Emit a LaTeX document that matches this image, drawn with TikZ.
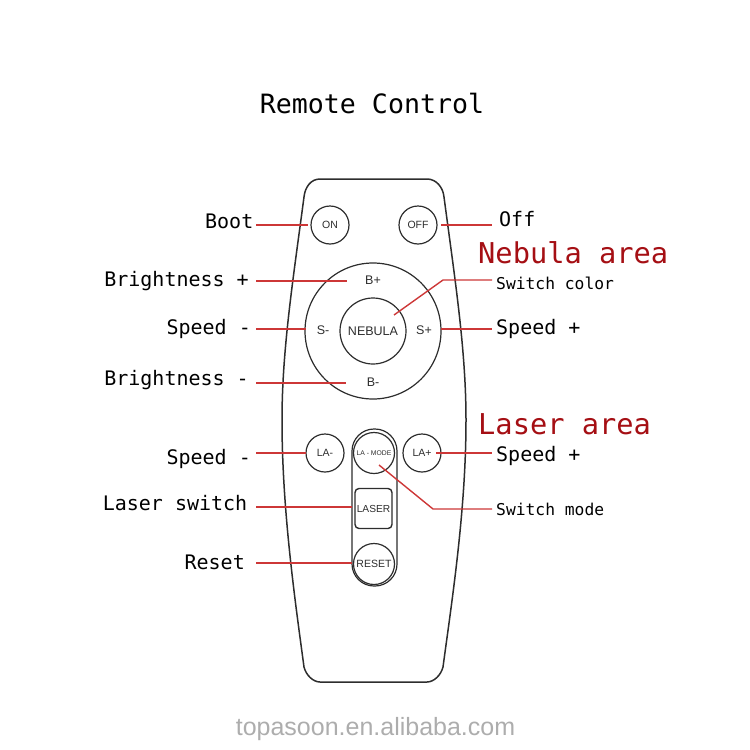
\documentclass[tikz,border=0pt]{standalone}
\usepackage{fontspec}
\setmainfont{DejaVu Sans Mono}
\newfontfamily\btnfont{Liberation Sans}
\definecolor{redline}{RGB}{205,55,55}
\definecolor{areared}{RGB}{165,15,20}
\definecolor{inkc}{RGB}{45,45,45}
\tikzset{
 shell/.style={draw=inkc,line width=1.5pt},
 roundbtn/.style={circle,draw=inkc,line width=1.2pt,minimum size=38pt,inner sep=0pt,text=inkc,font=\btnfont\fontsize{10.5}{12}\selectfont},
 bare/.style={inner sep=0pt,text=inkc,font=\btnfont\fontsize{12.5}{14}\selectfont},
 leader/.style={draw=redline,line width=1.4pt},
 lbl/.style={inner sep=0pt,text=black,font=\fontsize{20}{22}\selectfont},
 smalllbl/.style={inner sep=0pt,text=black,font=\fontsize{16.3}{19}\selectfont},
 area/.style={inner sep=0pt,text=areared,font=\fontsize{28.7}{32}\selectfont},
}
\begin{document}
\begin{tikzpicture}[x=1pt,y=-1pt]
\useasboundingbox (0,0) rectangle (750,750);
% body
\draw[shell] (320,179) -- (427,179) .. controls (436,179) and (443,187) .. (444,197)
  .. controls (455,280) and (466,350) .. (466,420)
  .. controls (466,510) and (452,600) .. (443,667)
  .. controls (441,675) and (434,682) .. (427,682) -- (320,682)
  .. controls (313,682) and (306,675) .. (304,667)
  .. controls (295,600) and (282,510) .. (282,420)
  .. controls (282,350) and (293,280) .. (304,197)
  .. controls (305,187) and (311,179) .. (320,179) -- cycle;
% cluster
\node[circle,draw=inkc,line width=1.2pt,minimum size=136pt,inner sep=0pt] (ring) at (373,331) {};
\node[roundbtn,minimum size=66pt,font=\btnfont\fontsize{12.5}{15}\selectfont] (nebula) at (373,331) {NEBULA};
\node[bare] (bp) at (373,280) {B+};
\node[bare] (bm) at (373,382) {B-};
\node[bare] (sm) at (323,330) {S-};
\node[bare] (sp) at (424,330) {S+};
% top buttons
\node[roundbtn] (on) at (330,225) {ON};
\node[roundbtn] (off) at (418,225) {OFF};
% laser group
\node[roundbtn] (lam) at (325,453) {LA-};
\node[roundbtn] (lap) at (422,453) {LA+};
\node[draw=inkc,line width=1.2pt,rounded corners=22pt,minimum width=45pt,minimum height=157pt,inner sep=0pt] (pill) at (374.5,507.5) {};
\node[roundbtn,minimum size=41pt,font=\btnfont\fontsize{6.8}{9}\selectfont] (lamode) at (374,453) {LA - MODE};
\node[draw=inkc,line width=1.4pt,rounded corners=4pt,minimum width=37pt,minimum height=40pt,inner sep=0pt,text=inkc,font=\btnfont\fontsize{10.2}{12}\selectfont] (laser) at (373.5,508.5) {LASER};
\node[roundbtn,minimum size=41pt,font=\btnfont\fontsize{10.5}{12}\selectfont] (reset) at (374,564) {RESET};
% labels
\node[inner sep=0pt,text=black,font=\fontsize{26.6}{30}\selectfont,anchor=base] (title) at (372,113) {Remote Control};
\node[lbl,anchor=base east] (boot) at (253.5,228) {Boot};
\node[lbl,anchor=base east] (brp) at (249,286) {Brightness +};
\node[lbl,anchor=base east] (spl) at (251,334) {Speed -};
\node[lbl,anchor=base east] (brm) at (249,385) {Brightness -};
\node[lbl,anchor=base east] (spl2) at (251,464) {Speed -};
\node[lbl,anchor=base east] (lsw) at (247.5,510) {Laser switch};
\node[lbl,anchor=base east] (rst) at (245,569) {Reset};
\node[lbl,anchor=base west] (offl) at (499,226) {Off};
\node[area,anchor=base west] (neb) at (478,263) {Nebula area};
\node[smalllbl,anchor=base west] (swc) at (496,289) {Switch color};
\node[lbl,anchor=base west] (spr) at (496,334) {Speed +};
\node[area,anchor=base west] (las) at (478,434) {Laser area};
\node[lbl,anchor=base west] (spr2) at (496,461) {Speed +};
\node[smalllbl,anchor=base west] (swm) at (496,515) {Switch mode};
% leaders
\coordinate (s1) at (256,225); \coordinate (e1) at (308,225);
\coordinate (e2) at (441,225); \coordinate (s2) at (492,225);
\coordinate (s3) at (256,281); \coordinate (e3) at (347,281);
\coordinate (s4) at (256,329); \coordinate (e4) at (306,329);
\coordinate (s5) at (256,383); \coordinate (e5) at (346,383);
\coordinate (s6) at (492,280); \coordinate (k6) at (443,280); \coordinate (e6) at (394,315);
\coordinate (e7) at (441,329); \coordinate (s7) at (492,329);
\coordinate (e8) at (436,453); \coordinate (s8) at (492,453);
\coordinate (s9) at (256,453); \coordinate (e9) at (306,453);
\coordinate (s10) at (256,507);\coordinate (e10) at (352,507);
\coordinate (s11) at (256,563);\coordinate (e11) at (352,563);
\coordinate (e12) at (379,465);\coordinate (k12) at (433,509); \coordinate (s12) at (492,509);
\draw[leader] (s1) -- (e1);
\draw[leader] (e2) -- (s2);
\draw[leader] (s3) -- (e3);
\draw[leader] (s4) -- (e4);
\draw[leader] (s5) -- (e5);
\draw[leader] (s6) -- (k6) -- (e6);
\draw[leader] (e7) -- (s7);
\draw[leader] (e8) -- (s8);
\draw[leader] (s9) -- (e9);
\draw[leader] (s10) -- (e10);
\draw[leader] (s11) -- (e11);
\draw[leader] (e12) -- (k12) -- (s12);
% watermark
\node[inner sep=0pt,text=black!32,font=\btnfont\fontsize{25}{28}\selectfont,anchor=base] (wm) at (375.5,735) {topasoon.en.alibaba.com};
\end{tikzpicture}
\end{document}
